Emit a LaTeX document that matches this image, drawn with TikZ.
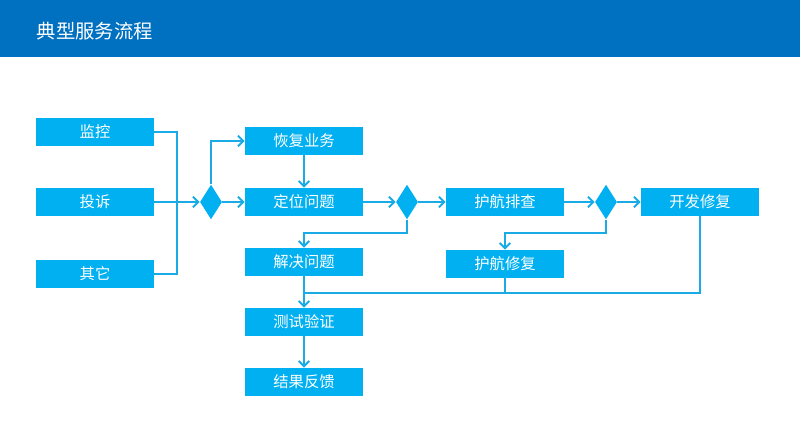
\documentclass[tikz,border=0pt]{standalone}
\usepackage{fontspec}
\newfontfamily\cjk{Noto Sans CJK SC}
\usetikzlibrary{calc,positioning}
\usetikzlibrary{shapes,arrows,arrows.meta}

\definecolor{headblue}{HTML}{0070C0}
\definecolor{boxblue}{HTML}{00B0F0}
\definecolor{lineblue}{HTML}{1AAAE6}

\begin{document}
\begin{tikzpicture}[x=0.75pt,y=-0.75pt,
block/.style = {rectangle, fill=boxblue, text=white, minimum width=88.5pt,
                minimum height=21pt, inner sep=0pt, font=\cjk\fontsize{11.5}{12}\selectfont},
decision/.style = {diamond, fill=boxblue, minimum width=16.5pt, minimum height=26pt,
                   inner sep=0pt},
line/.style ={draw=lineblue, line width=1.5pt, -{Straight Barb[length=4pt,width=8pt]}},
plain/.style ={draw=lineblue, line width=1.5pt}]

\useasboundingbox (0,0) rectangle (800,448);

% header
\fill[headblue] (0,0) rectangle (800,57);
\node[anchor=west, text=white, font=\cjk\fontsize{14.5}{16}\selectfont] (title) at (32,31) {典型服务流程};

% sources
\node [block] (jiankong) at (95,132) {监控};
\node [block] (tousu) at (95,202) {投诉};
\node [block] (qita) at (95,274) {其它};

% main row
\node [decision] (d1) at (211,202) {};
\node [block] (huifu) at (304,141) {恢复业务};
\node [block] (dingwei) at (304,202) {定位问题};
\node [decision] (d2) at (407,202) {};
\node [block] (paicha) at (505,202) {护航排查};
\node [decision] (d3) at (606,202) {};
\node [block] (kaifa) at (700,202) {开发修复};

% lower rows
\node [block] (jiejue) at (304,262) {解决问题};
\node [block] (xiufu) at (505,264) {护航修复};
\node [block] (ceshi) at (304,322) {测试验证};
\node [block] (jieguo) at (304,382) {结果反馈};

\coordinate (M) at (177,202);
\coordinate (A) at (304,233);
\coordinate (B) at (505,233);
\coordinate (C) at (304,293);

\begin{scope}[every path/.style=plain]
\path (jiankong) -| (M);
\path (qita) -| (M);
\path (kaifa.south) |- (C);
\path (xiufu.south) -- (xiufu.south |- C);
\end{scope}

\begin{scope}[every path/.style=line]
\path (tousu) -- (d1);
\path (d1.north) |- (huifu);
\path (d1) -- (dingwei);
\path (huifu) -- (dingwei);
\path (dingwei) -- (d2);
\path (d2) -- (paicha);
\path (d2.south) |- (A) -- (jiejue.north);
\path (paicha) -- (d3);
\path (d3) -- (kaifa);
\path (d3.south) |- (B) -- (xiufu.north);
\path (jiejue) -- (ceshi);
\path (ceshi) -- (jieguo);
\end{scope}
\end{tikzpicture}
\end{document}
